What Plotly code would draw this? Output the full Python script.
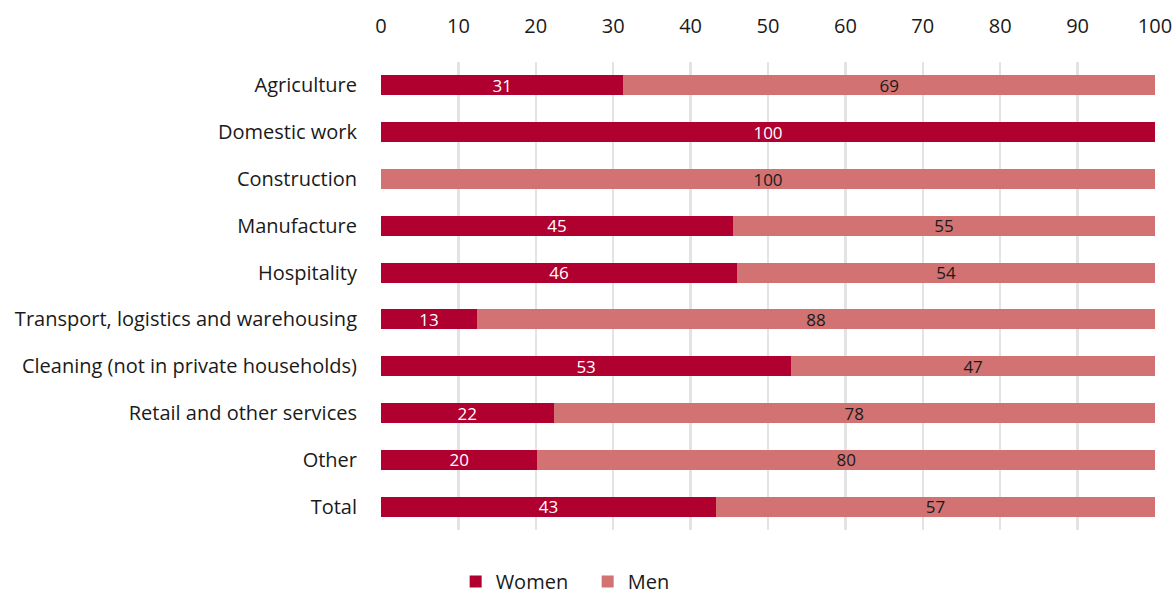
import plotly.graph_objects as go

categories = ["Agriculture", "Domestic work", "Construction", "Manufacture", "Hospitality",
              "Transport, logistics and warehousing", "Cleaning (not in private households)",
              "Retail and other services", "Other", "Total"]
women = [31.3, 100, 0, 45.5, 46.0, 12.4, 53.0, 22.3, 20.2, 43.3]
men = [68.7, 0, 100, 54.5, 54.0, 87.6, 47.0, 77.7, 79.8, 56.7]
women_labels = ["31", "100", "", "45", "46", "13", "53", "22", "20", "43"]
men_labels = ["69", "", "100", "55", "54", "88", "47", "78", "80", "57"]
x_ticks = [0, 10, 20, 30, 40, 50, 60, 70, 80, 90, 100]

FONT = "Open Sans"

fig = go.Figure()
fig.add_trace(go.Bar(
    y=categories, x=women, name="Women", orientation="h",
    marker=dict(color="#b0002f", line=dict(width=0)),
    text=women_labels, textposition="inside", insidetextanchor="middle",
    constraintext="none", cliponaxis=False,
    textfont=dict(color="white", size=17, family=FONT), textangle=0,
))
fig.add_trace(go.Bar(
    y=categories, x=men, name="Men", orientation="h",
    marker=dict(color="#d27272", line=dict(width=0)),
    text=men_labels, textposition="inside", insidetextanchor="middle",
    constraintext="none", cliponaxis=False,
    textfont=dict(color="#1a1a1a", size=17, family=FONT), textangle=0,
))

fig.update_layout(
    barmode="stack",
    bargap=0.57,
    width=1175, height=594,
    margin=dict(l=381, r=20, t=62, b=64, autoexpand=False),
    paper_bgcolor="white", plot_bgcolor="white",
    font=dict(family=FONT, size=19, color="#1a1a1a"),
    xaxis=dict(
        side="top", range=[0, 100], tickvals=x_ticks,
        showgrid=True, gridcolor="#e3e3e3", gridwidth=2.5,
        zeroline=False, showline=False, automargin=False,
        ticks="outside", ticklen=20, tickcolor="rgba(0,0,0,0)",
        tickfont=dict(size=20, family=FONT, color="#1a1a1a"),
        fixedrange=True,
    ),
    yaxis=dict(
        autorange="reversed", showgrid=False, zeroline=False, showline=False,
        automargin=False,
        ticks="outside", ticklen=19, tickcolor="rgba(0,0,0,0)",
        tickfont=dict(size=20, family=FONT, color="#1a1a1a"),
        fixedrange=True,
    ),
    legend=dict(
        orientation="h", x=0.267, xanchor="center", y=-0.11, yanchor="middle",
        font=dict(size=20, family=FONT, color="#1a1a1a"),
        itemwidth=30, entrywidth=87, traceorder="normal",
    ),
)

fig.write_html(
    "out.html",
    config={"displayModeBar": False, "staticPlot": True},
    post_script="document.body.style.margin='0';document.body.style.overflow='hidden';",
)
